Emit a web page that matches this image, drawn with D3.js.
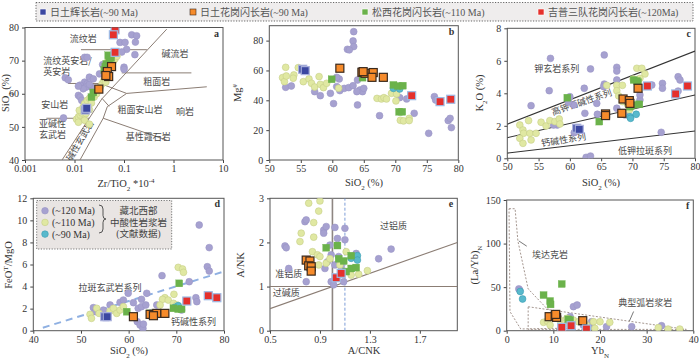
<!DOCTYPE html>
<meta charset="utf-8">
<script src="https://d3js.org/d3.v7.min.js"></script>
<style>
  body { margin: 0; background: #fff; }
  svg text { font-family: "Liberation Serif", "Noto Sans CJK SC", serif; fill: #333; }
  .cn { font-family: "Noto Sans CJK SC", sans-serif; font-size: 9px; fill: #4a4a4a; }
  .tick text { font-size: 10px; }
  .tick line { stroke: #444; }
</style>
<svg id="chart" width="700" height="358"></svg>
<script>

// ---- legend series ----
var seriesNames = ["日土辉长岩(~90 Ma)", "日土花岗闪长岩(~90 Ma)", "松西花岗闪长岩(~110 Ma)", "吉普三队花岗闪长岩(~120Ma)"];
var seriesKeys = ["blue", "orange", "green", "red"];
var litNames = ["(~120 Ma)", "(~110 Ma)", "(~90 Ma)"];
var litKeys = ["purple", "yellow", "cyan"];

// ---- a: SiO2 vs Zr/TiO2 ----
var aPurple = [[0.143,77.8],[0.18,77.5],[0.17,75.6],[0.083,75.5],[0.105,75.5],[0.113,73.4],[0.09,72.6],[0.062,71.5],[0.166,71.8],[0.016,71],[0.018,71],[0.037,68.8],[0.1,68],[0.1,67.4],[0.0065,64.8],[0.0075,64.2],[0.02,65],[0.024,64.5],[0.016,63.5],[0.018,63],[0.013,62.6],[0.017,62],[0.015,61.5],[0.022,62],[0.012,59.5],[0.013,59],[0.014,58],[0.006,52.7],[0.032,66],[0.012,62.3],[0.02,62.8]];
var aYellow = [[0.011,52.3],[0.012,53],[0.013,53.6],[0.014,54.2],[0.0125,55],[0.015,56],[0.016,57],[0.018,58],[0.02,58.6],[0.022,57.2],[0.025,59],[0.02,55.2],[0.017,54],[0.028,60],[0.03,61],[0.033,62],[0.036,63],[0.039,64],[0.042,65.5],[0.046,67],[0.05,68],[0.056,69],[0.062,70],[0.066,70.6],[0.072,71.3],[0.047,66],[0.043,63.5],[0.016,52],[0.012,51.4],[0.02,50.8],[0.045,69.5],[0.058,71.8]];
var aGreen = [[0.022,59],[0.024,60.4],[0.044,69],[0.05,70],[0.055,70.8],[0.048,71.6],[0.04,67.2],[0.042,68.2]];
var aOrange = [[0.056,68.2],[0.046,66.7],[0.049,65.2],[0.043,65.5],[0.031,61.4]];
var aBlue = [[0.0165,55.1],[0.0176,55.6]];
var aRed = [[0.066,79.3],[0.061,77.8],[0.066,72.5]];
var aLines = [
  [[0.0135,73.3],[0.29,73.3]],
  [[0.09,66.3],[2.3,66.3]],
  [[0.73,79.5],[0.0355,58.4],[0.0056,40]],
  [[0.0129,40],[0.038,52.6],[0.046,56.1],[0.113,60.1],[4.7,62.1]],
  [[0.0074,63.1],[0.033,63.1],[0.113,60.1]],
  [[0.0027,52.6],[0.0198,52.6]],
  [[0.038,52.6],[0.73,46]],
  [[0.036,58.6],[0.05,56.2]]
];
var aLabels = [["流纹岩",0.015,76.7],["碱流岩",1.07,71.9],["粗面岩",0.46,63.6],["安山岩",0.004,56.6],["粗面安山岩",0.21,55.1],["响岩",1.7,54.4],["亚碱性",0.0036,51],["玄武岩",0.0036,47.7],["基性霞石岩",0.31,47]];

// ---- b: Mg# vs SiO2 ----
var bPurple = [[63.4,86],[63.3,79.8],[63.4,76],[62.4,74.2],[62.7,73.8],[52.6,48.7],[53.5,49.6],[57.2,45.8],[58.1,43.1],[59.7,44.7],[60.2,37.8],[60.7,49.2],[61.2,46.5],[61.9,48],[62.6,48.5],[63.3,49.8],[64,53.6],[64.4,46.9],[64.8,45.8],[64,36.9],[65,48],[67.5,29.7],[70.7,41.8],[71.8,40.9],[73,31.3],[76.2,42.5],[76.4,40.2],[75.3,17.9],[78.4,26.4],[78.7,27.9],[78.9,21.7],[63.9,45.8],[61.1,54.3],[60.7,55.4]];
var bYellow = [[52.6,62.1],[54.6,61.9],[52.1,55.2],[52.4,52.5],[52.7,56.3],[53.9,57],[53.8,54.8],[55.4,52.5],[56.3,54.3],[56.7,51.4],[57.2,48.9],[57.9,55.9],[58.1,50.7],[58.6,48.5],[59.1,51.4],[61,48.1],[67.1,41.3],[67.8,40.9],[68.2,41.8],[68.6,40.9],[69.4,44.7],[70.1,39.6],[70.2,44.3],[70.8,26.6],[71.3,26.2],[72.2,27.9],[72.2,26.4]];
var bCyan = [[69.7,48],[70.7,47.6]];
var bGreen = [[59.9,54.1],[64.8,55.2],[69.7,50.3],[70.4,49.6],[71.2,49.8],[70.6,32.3],[71.1,32.3]];
var bBlue = [[55.3,60.8],[55.7,59.9]];
var bOrange = [[61.2,61.5],[64.7,58.8],[65.2,58.1],[66.5,58.6],[66.3,55.4],[68.1,55.4],[64.9,59.2]];
var bRed = [[72.6,43.1],[77.1,39.1],[78.8,40.7]];

// ---- c: K2O vs SiO2 ----
var cPurple = [[56.9,6.15],[65.5,6.36],[56.7,4.16],[53.8,3.24],[63.3,5.5],[67.5,5.6],[67.5,5.37],[65.5,4.57],[65.4,4.41],[62.3,4.31],[60,3.79],[60.6,3.28],[59.8,3.45],[64.4,2.71],[64.3,3.38],[62.4,2.77],[58,2.05],[57.4,2.05],[60.7,1.58],[62.6,0.06],[63.3,0.14],[74.6,1.6],[74.8,4.61],[74.8,4.31],[77.3,5.02],[77.6,4.82],[77.3,4.14],[71.2,3.59],[71.2,3.9],[73.1,4.51],[67.5,4.82],[68.8,2.67],[67.5,3.08]];
var cYellow = [[52,2.05],[52.5,1.74],[52.6,1.54],[52,1.23],[52.5,0.92],[53.8,1.13],[53.6,1.54],[53.4,2.32],[54.6,1.54],[55.4,2.22],[56.2,1.99],[56.8,2.32],[57.6,2.26],[58.3,2.42],[58.4,2.11],[65.9,4.49],[67.5,4.49],[68.4,4.49],[67.5,4.16],[67.8,3.84],[68.4,3.49],[69.2,3.32],[70.1,4.88],[70.7,5.54],[71.5,5.54],[72,5.19],[71.2,4.92],[69.5,2.97]];
var cCyan = [[69.6,2.56],[70.6,2.71],[69.7,2.46]];
var cGreen = [[59.6,3.73],[64.7,2.26],[70.2,4.82],[70.7,4.76],[70.9,4.68],[71.1,3.32],[69.6,3.18],[70.1,3.28]];
var cBlue = [[61.1,1.85],[61.5,1.78]];
var cOrange = [[65.7,2.73],[65.7,2.63],[68.3,2.77],[68.5,3.65],[69.5,3.55],[69.6,3.38],[70.9,4.31]];
var cRed = [[72.4,4.45],[76.9,3.96],[78.8,4.45]];
var cLines = [[[50,2.1],[80,6.6]], [[50,1.27],[80,3.9]], [[50,0.32],[80,1.68]]];

// ---- d: FeOT/MgO vs SiO2 ----
var dPurple = [[74.8,9.58],[76.9,7.53],[76.5,5.8],[76.9,5.41],[67,4.99],[72.7,4.44],[62.7,2.84],[59.9,3.39],[63.8,3.39],[61,2.54],[58.2,2.57],[56.1,2.33],[54.7,1.87],[52.6,2.09],[53,1.72],[62,2.03],[62.7,2.18],[63.6,2.33],[61.8,0.82],[62.4,0.51],[63,0.21],[63.1,0.6],[74.1,2.99],[74.3,2.63],[71.1,1.87],[65.9,2.33],[64.8,1.63],[58.9,2.78]];
var dYellow = [[70.4,5.74],[71.3,5.59],[71.5,5.29],[69.5,3.3],[67.6,2.99],[67.1,2.84],[68.3,2.78],[51.9,1.48],[52.2,1.12],[53.3,2.03],[53.8,1.57],[56.1,1.78],[56.8,2.03],[57.5,1.57],[58.2,1.87],[58.9,2.18],[69.4,2.48],[70.1,2.33],[66.6,2.33]];
var dCyan = [[69.7,2.12],[70.4,2.27]];
var dGreen = [[70.6,4.29],[59.6,1.72],[64.5,1.57],[69.4,2.03],[70.4,1.96],[71.1,1.96]];
var dBlue = [[55,1.27],[55.5,1.27]];
var dOrange = [[61,1.27],[64.5,1.48],[65.9,1.57],[67.6,1.57],[65.2,1.36]];
var dRed = [[72.2,2.69],[76.7,3.17],[78.5,2.99]];
var dLine = [[42,0.27],[79.5,5.3]];

// ---- e: A/NK vs A/CNK ----
var ePurple = [[0.62,1.92],[0.63,1.88],[0.65,1.41],[0.78,2.47],[0.79,2.51],[0.93,2.28],[0.95,2.36],[0.93,2.21],[1.02,2.34],[1.1,2.32],[1.04,2.09],[1.1,2.06],[0.98,1.94],[0.99,1.72],[0.96,1.56],[1.02,1.49],[1.05,1.68],[1.07,1.45],[0.99,1.11],[1.01,1.04],[0.79,1.11],[1.09,1.11],[1.37,1.63],[1.47,1.85],[1.19,1.75],[0.94,1.41]];
var eYellow = [[0.81,2.89],[0.9,2.94],[0.89,2.71],[0.85,2.45],[0.75,2.21],[0.85,2.12],[0.74,2.02],[0.84,1.79],[0.88,1.72],[0.9,1.68],[0.89,1.49],[0.95,1.53],[0.98,1.63],[1.06,1.49],[1.15,1.26],[1.21,1.28],[1.28,1.36],[1.11,1.79]];
var eCyan = [[1.15,1.64],[1.2,1.7],[1.2,1.6]];
var eGreen = [[0.95,1.88],[1.04,1.93],[1.05,1.63],[1.09,1.58],[1.15,1.7],[1.11,1.34],[1.15,1.41],[1.19,1.43]];
var eOrange = [[0.79,1.6],[0.82,1.58],[0.81,1.47],[0.83,1.45],[0.83,1.35]];
var eRed = [[1.03,1.2],[1.07,1.3]];

// ---- f: (La/Yb)N vs YbN ----
var fPurple = [[2.6,48],[2.8,46.5],[14.3,27.6],[15.1,29.5],[13.6,16.1],[16.4,6.5],[17.9,4.6],[26.8,4.6],[33.2,5.7],[21.4,4.6],[18.2,10.3]];
var fYellow = [[7.9,9.6],[8.7,11.1],[11.4,12.2],[12.9,14.2],[14.3,12.2],[15.4,10.3],[16.4,12.2],[18.6,10.3],[20,10.3],[22.1,9.6],[18.9,2.7],[32.5,3.4],[34.6,1.9],[37.1,1.9],[12.5,8.4],[9.3,6.5],[17.1,6.5]];
var fCyan = [[2.9,45],[3.4,36.4]];
var fGreen = [[11.8,53.6],[7.9,40.9],[9.3,34.1],[9.4,30.2],[13.2,13],[13.6,12.2]];
var fOrange = [[9.1,16.1],[10.4,17.2],[10.7,15.3],[10.5,18.7],[16.3,11.5]];
var fRed = [[11.8,3.8],[13.8,5.7],[17.1,1.9]];
var fAdakite = [[0.5,140],[1.8,140],[2.4,103],[4.6,48],[8.5,26],[12,16],[14,3],[3,2],[0.7,22],[0.5,140]];
var fArc = [[4.6,27.5],[38.5,1.5],[4.6,1.5],[4.6,27.5]];

var svg = d3.select("#chart");
svg.append("rect").attr("width", 700).attr("height", 358).attr("fill", "#fff");

var style = {
  purple: { r: 3.4, fill: "#a6a1d0", stroke: "#9a95c6" },
  yellow: { r: 3.4, fill: "#e0e8a2", stroke: "#c6cf88" },
  cyan:   { r: 3.4, fill: "#58b9cc", stroke: "#3b9db3" },
  green:  { s: 7, fill: "#6bb24b", stroke: "#6bb24b" },
  blue:   { s: 8, fill: "#3b47a1", stroke: "#a9b0dc" },
  orange: { s: 8, fill: "#f68b2b", stroke: "#3a2a1e" },
  red:    { s: 8, fill: "#e5302c", stroke: "#9dbbe6" }
};

function panel(o) {
  var g = svg.append("g");
  var x = (o.log ? d3.scaleLog() : d3.scaleLinear()).domain(o.xd).range([o.l, o.r]);
  var y = d3.scaleLinear().domain(o.yd).range([o.b, o.t]);
  var xa = d3.axisBottom(x).tickValues(o.xt).tickSize(3).tickPadding(2).tickSizeOuter(0).tickFormat(String);
  g.append("g").attr("transform", "translate(0," + o.b + ")").call(xa);
  g.append("g").attr("transform", "translate(" + o.l + ",0)")
    .call(d3.axisLeft(y).tickValues(o.yt).tickSize(3).tickSizeOuter(0).tickFormat(String));
  g.selectAll(".domain").remove();
  g.append("rect").attr("x", o.l).attr("y", o.t).attr("width", o.r - o.l).attr("height", o.b - o.t)
    .attr("fill", "none").attr("stroke", "#555").attr("stroke-width", 1);
  g.append("text").attr("x", o.r - 4).attr("y", o.t + 9).attr("text-anchor", "end")
    .style("font-weight", "bold").style("font-size", "10px").text(o.letter);
  var clipId = "clip" + o.letter;
  svg.append("clipPath").attr("id", clipId).append("rect")
    .attr("x", o.l).attr("y", o.t).attr("width", o.r - o.l).attr("height", o.b - o.t);
  var inner = g.append("g").attr("clip-path", "url(#" + clipId + ")");
  return { g: g, inner: inner, x: x, y: y, o: o };
}

function title(p, parts, px, py, rot) {
  var t = p.g.append("text").attr("text-anchor", "middle").style("font-size", "10.5px")
    .attr("transform", "translate(" + px + "," + py + ")" + (rot ? " rotate(-90)" : ""));
  parts.forEach(function (s) {
    var ts = t.append("tspan").text(s[0]);
    if (s[1] == "sub") ts.attr("baseline-shift", "sub").style("font-size", "7px");
    if (s[1] == "sup") ts.attr("baseline-shift", "super").style("font-size", "7px");
  });
}

function lines(p, list, color, width, dash) {
  var line = d3.line().x(function (d) { return p.x(d[0]); }).y(function (d) { return p.y(d[1]); });
  p.inner.selectAll(null).data(list).enter().append("path")
    .attr("d", line).attr("fill", "none").attr("stroke", color)
    .attr("stroke-width", width).attr("stroke-dasharray", dash || null);
}

function dots(p, data, key) {
  var s = style[key];
  if (s.r) {
    p.inner.selectAll(null).data(data).enter().append("circle")
      .attr("cx", function (d) { return p.x(d[0]); })
      .attr("cy", function (d) { return p.y(d[1]); })
      .attr("r", s.r).attr("fill", s.fill).attr("stroke", s.stroke).attr("stroke-width", 0.6);
  } else {
    p.inner.selectAll(null).data(data).enter().append("rect")
      .attr("x", function (d) { return p.x(d[0]) - s.s / 2; })
      .attr("y", function (d) { return p.y(d[1]) - s.s / 2; })
      .attr("width", s.s).attr("height", s.s)
      .attr("fill", s.fill).attr("stroke", s.stroke).attr("stroke-width", key == "green" ? 0.3 : 1.2);
  }
}

function labels(p, list, anchor) {
  p.inner.selectAll(null).data(list).enter().append("text").attr("class", "cn")
    .attr("x", function (d) { return p.x(d[1]); })
    .attr("y", function (d) { return p.y(d[2]); })
    .attr("dy", "0.35em")
    .attr("text-anchor", anchor || "middle")
    .attr("transform", function (d) { return d[3] ? "rotate(" + d[3] + "," + p.x(d[1]) + "," + p.y(d[2]) + ")" : null; })
    .text(function (d) { return d[0]; });
}

function drawAll(p, sets) {
  ["purple", "yellow", "cyan", "green", "blue", "orange", "red"].forEach(function (k) {
    if (sets[k]) dots(p, sets[k], k);
  });
}

// top legend
svg.append("rect").attr("x", 36).attr("y", 2.5).attr("width", 657).attr("height", 18.5)
  .attr("fill", "#efeded").attr("stroke", "#666").attr("stroke-dasharray", "1.2,1.5").attr("stroke-width", 1);
var legX = [40, 190, 362, 538];
seriesKeys.forEach(function (k, i) {
  svg.append("rect").attr("x", legX[i]).attr("y", 9).attr("width", 6).attr("height", 6)
    .attr("fill", style[k].fill).attr("stroke", k == "orange" ? "#3a2a1e" : "#fff").attr("stroke-width", 0.6);
  svg.append("text").attr("x", legX[i] + 10).attr("y", 15.5).style("font-size", "10px").style("fill", "#555")
    .text(seriesNames[i]);
});

// ---- panel a ----
var pa = panel({ l: 25, r: 223, t: 27.5, b: 160, xd: [0.001, 10], yd: [40, 80], log: true,
  xt: [0.001, 0.01, 0.1, 1, 10], yt: [40, 50, 60, 70, 80], letter: "a" });
lines(pa, aLines, "#8b7d74", 1);
labels(pa, aLabels);
labels(pa, [["流纹英安岩/", 0.00234, 69.9], ["英安岩", 0.00234, 66.6]], "start");
labels(pa, [["碱性玄武岩", 0.013, 45.8, -60]]);
drawAll(pa, { purple: aPurple, yellow: aYellow, green: aGreen, blue: aBlue, orange: aOrange, red: aRed });
title(pa, [["SiO"], ["2", "sub"], [" (%)"]], 9, 93, true);
title(pa, [["Zr/TiO"], ["2", "sub"], [" *10"], ["-4", "sup"]], 126, 187);

// ---- panel b ----
var pb = panel({ l: 269.3, r: 458.3, t: 25.7, b: 160, xd: [50, 80], yd: [0, 90],
  xt: [50, 55, 60, 65, 70, 75, 80], yt: [0, 20, 40, 60, 80], letter: "b" });
drawAll(pb, { purple: bPurple, yellow: bYellow, cyan: bCyan, green: bGreen, blue: bBlue, orange: bOrange, red: bRed });
title(pb, [["Mg"], ["#", "sup"]], 241, 93, true);
title(pb, [["SiO"], ["2", "sub"], [" (%)"]], 364, 186);

// ---- panel c ----
var pc = panel({ l: 507.3, r: 695, t: 28.3, b: 158.3, xd: [50, 80], yd: [0, 8],
  xt: [50, 55, 60, 65, 70, 75, 80], yt: [0, 2, 4, 6, 8], letter: "c" });
lines(pc, cLines, "#333", 1.1);
labels(pc, [["钾玄岩系列", 57.9, 5.5], ["低钾拉斑系列", 72, 0.45], ["高钾钙碱性系列", 61.9, 3.45, -19], ["钙碱性系列", 59, 1.13, -9]]);
drawAll(pc, { purple: cPurple, yellow: cYellow, cyan: cCyan, green: cGreen, blue: cBlue, orange: cOrange, red: cRed });
title(pc, [["K"], ["2", "sub"], ["O (%)"]], 483, 93, true);
title(pc, [["SiO"], ["2", "sub"], [" (%)"]], 601, 186);

// ---- panel d ----
var pd = panel({ l: 33.3, r: 224, t: 198.3, b: 330.7, xd: [40, 80], yd: [0, 12],
  xt: [40, 50, 60, 70, 80], yt: [0, 2, 4, 6, 8, 10, 12], letter: "d" });
lines(pd, [dLine], "#8fb0e2", 2, "7,5");
labels(pd, [["拉斑玄武岩系列", 56.1, 3.84], ["钙碱性系列", 73.6, 0.76]]);
drawAll(pd, { purple: dPurple, yellow: dYellow, cyan: dCyan, green: dGreen, blue: dBlue, orange: dOrange, red: dRed });
title(pd, [["FeO"], ["T", "sup"], ["/MgO"]], 12, 265, true);
title(pd, [["SiO"], ["2", "sub"], [" (%)"]], 129, 353.5);
// literature legend in d
var lg = pd.g.append("g");
lg.append("rect").attr("x", 36.7).attr("y", 200.5).attr("width", 135).attr("height", 48.5)
  .attr("fill", "#e9e5e3").attr("stroke", "#777").attr("stroke-dasharray", "1.2,1.5");
litKeys.forEach(function (k, i) {
  var cy = 210.7 + i * 11.7;
  lg.append("circle").attr("cx", 45).attr("cy", cy).attr("r", 3.3).attr("fill", style[k].fill).attr("stroke", style[k].stroke).attr("stroke-width", 0.6);
  lg.append("text").attr("x", 52).attr("y", cy + 3.5).style("font-size", "10px").text(litNames[i]);
});
lg.append("path").attr("d", "M99,205 q4,0 4,4 v6.5 q0,3.5 3,3.5 q-3,0 -3,3.5 v6.5 q0,4 -4,4")
  .attr("fill", "none").attr("stroke", "#444").attr("stroke-width", 0.9);
["藏北西部", "中酸性岩浆岩", "(文献数据)"].forEach(function (s, i) {
  lg.append("text").attr("x", 138.5).attr("y", 214 + i * 11.7).attr("text-anchor", "middle")
    .style("font-size", "9.5px").style("fill", "#444").text(s);
});

// ---- panel e ----
var pe = panel({ l: 270, r: 457.3, t: 198.3, b: 330.7, xd: [0.5, 2.0], yd: [0, 3],
  xt: [0.5, 0.9, 1.3, 1.7], yt: [0, 1, 2, 3], letter: "e" });
lines(pe, [[[0.5, 0.5], [2.0, 2.0]], [[0.5, 1], [2.0, 1]]], "#8b7d74", 1.1);
lines(pe, [[[1.0, 0], [1.0, 3]]], "#8e8682", 1.6);
lines(pe, [[[1.1, 0], [1.1, 3]]], "#6d92d2", 0.9, "3,2");
labels(pe, [["过铝质", 1.49, 2.38], ["准铝质", 0.65, 1.28], ["过碱质", 0.63, 0.85]]);
drawAll(pe, { purple: ePurple, yellow: eYellow, cyan: eCyan, green: eGreen, orange: eOrange, red: eRed });
title(pe, [["A/NK"]], 244, 265, true);
title(pe, [["A/CNK"]], 364, 353.5);

// ---- panel f ----
var pf = panel({ l: 506.7, r: 693.3, t: 200, b: 330.7, xd: [0, 40], yd: [0, 150],
  xt: [0, 10, 20, 30, 40], yt: [0, 50, 100, 150], letter: "f" });
lines(pf, [fAdakite, fArc], "#9a8a82", 0.9, "2,1.6");
lines(pf, [[[4.3, 97], [2.6, 103]], [[27.2, 22], [26.3, 11]]], "#555", 0.8);
labels(pf, [["埃达克岩", 9.3, 86.9], ["典型弧岩浆岩", 29.7, 31.4]]);
drawAll(pf, { purple: fPurple, yellow: fYellow, cyan: fCyan, green: fGreen, orange: fOrange, red: fRed });
title(pf, [["(La/Yb)"], ["N", "sub"]], 478, 265, true);
title(pf, [["Yb"], ["N", "sub"]], 600, 353.5);

</script>
